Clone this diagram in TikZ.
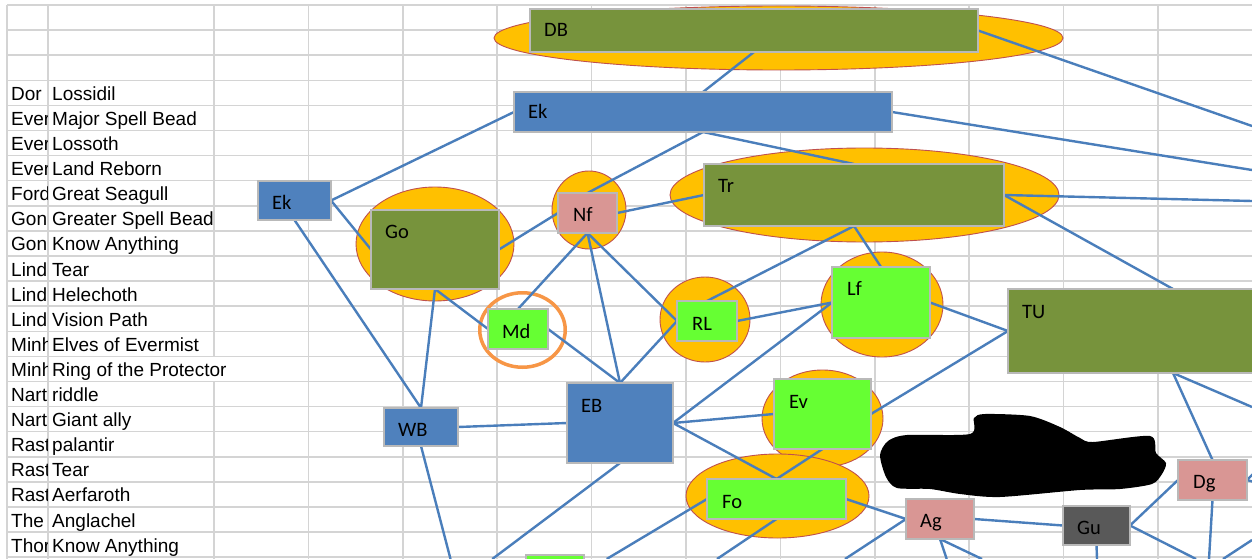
\documentclass[tikz,border=0pt]{standalone}
\usepackage{fontspec}
\setmainfont{Liberation Sans}
\newfontfamily\lblfont{Carlito}
\usetikzlibrary{shapes.geometric,calc}
\definecolor{gridc}{RGB}{212,212,212}
\definecolor{bluec}{RGB}{79,129,189}
\definecolor{olivec}{RGB}{119,147,60}
\definecolor{pinkc}{RGB}{217,150,148}
\definecolor{greenc}{RGB}{102,255,51}
\definecolor{dgrayc}{RGB}{89,89,89}
\definecolor{ovalf}{RGB}{255,192,0}
\definecolor{ovalb}{RGB}{192,80,77}
\definecolor{ringc}{RGB}{247,150,70}
\definecolor{boxb}{RGB}{185,185,185}
\definecolor{connc}{RGB}{74,126,187}
\pgfdeclarelayer{back}
\pgfdeclarelayer{mid}
\pgfsetlayers{back,mid,main}
\begin{document}
\begin{tikzpicture}[x=1pt,y=-1pt,
  gridln/.style={draw=gridc, line width=1.5pt},
  boxnode/.style={draw=boxb, line width=1.6pt, inner sep=0pt, outer sep=0pt},
  blu/.style={boxnode, fill=bluec},
  oli/.style={boxnode, fill=olivec},
  pnk/.style={boxnode, fill=pinkc},
  grn/.style={boxnode, fill=greenc},
  dgr/.style={boxnode, fill=dgrayc},
  oval/.style={ellipse, draw=ovalb, fill=ovalf, line width=0.9pt, inner sep=0pt, outer sep=0pt},
  ring/.style={ellipse, draw=ringc, line width=3.5pt, inner sep=0pt, outer sep=0pt},
  conn/.style={draw=connc, line width=2.4pt},
  lbl/.style={anchor=base west, inner sep=0pt, font=\lblfont\fontsize{20.5}{24}\selectfont},
  cell/.style={anchor=base west, inner sep=0pt, font=\fontsize{19}{23}\selectfont}]
\useasboundingbox (0,0) rectangle (1252,559);

\begin{pgfonlayer}{back}
\begin{scope}
\clip (0,0) rectangle (1252,559);
\fill[white] (0,0) rectangle (1252,559);
% grid rows
\foreach \k in {0,...,22} {
  \draw[gridln] (7,{5+25.1*\k}) -- (1262,{5+25.1*\k});
}
% grid columns
\foreach \c in {7,48,308.4,402.8,497.2,591.6,686,780.4,874.8,969.2,1063.6,1158,1252.4} {
  \draw[gridln] (\c,5) -- (\c,562);
}
\draw[gridln] (214,5) -- (214,356.4);
\draw[gridln] (214,381.5) -- (214,562);
% column B texts
\foreach \b [count=\i from 3] in {Lossidil,Major Spell Bead,Lossoth,Land Reborn,Great Seagull,Greater Spell Bead,Know Anything,Tear,Helechoth,Vision Path,Elves of Evermist,Ring of the Protector,riddle,Giant ally,palantir,Tear,Aerfaroth,Anglachel,Know Anything} {
  \node[cell] (b\i) at (52,{5+25.1*\i+20}) {\b};
}
% column A texts (clipped at the cell edge)
\begin{scope}
\clip (7,5) rectangle (47.3,559);
\foreach \a [count=\i from 3] in {Dor,Ever,Ever,Ever,Ford,Gon,Gon,Lind,Lind,Lind,Minh,Minh,Nart,Nart,Rast,Rast,Rast,The,Thor} {
  \node[cell] (a\i) at (11,{5+25.1*\i+20}) {\a};
}
\end{scope}
% ellipses
\node[oval, minimum width=569pt, minimum height=64pt] (DBe) at (778.5,38) {};
\node[oval, minimum width=158pt, minimum height=114pt] (Goe) at (435,244) {};
\node[oval, minimum width=74pt, minimum height=78pt] (Nfe) at (589,210) {};
\node[oval, minimum width=389pt, minimum height=94pt] (Tre) at (864.5,195) {};
\node[oval, minimum width=90pt, minimum height=85pt] (RLe) at (705,319.5) {};
\node[oval, minimum width=122pt, minimum height=105pt] (Lfe) at (882,304.5) {};
\node[oval, minimum width=121pt, minimum height=97pt] (Eve) at (822.5,418.5) {};
\node[oval, minimum width=183pt, minimum height=84pt] (Foe) at (777.5,496) {};
\node[ring, minimum width=85.5pt, minimum height=74.5pt] (Mde) at (522.5,330) {};
\end{scope}
\end{pgfonlayer}

% boxes
\node[oli, minimum width=448pt, minimum height=43pt] (DB) at (754,30.5) {};
\node[blu, minimum width=378pt, minimum height=40pt] (EkB) at (703,112) {};
\node[blu, minimum width=73pt, minimum height=39pt] (EkS) at (294.5,200.5) {};
\node[oli, minimum width=128pt, minimum height=79pt] (Go) at (435,249.5) {};
\node[pnk, minimum width=59pt, minimum height=40pt] (Nf) at (587.5,213) {};
\node[oli, minimum width=300pt, minimum height=62pt] (Tr) at (854,195) {};
\node[grn, minimum width=60pt, minimum height=40pt] (Md) at (518,329) {};
\node[grn, minimum width=60pt, minimum height=40pt] (RL) at (707,321) {};
\node[grn, minimum width=98pt, minimum height=71pt] (Lf) at (881,302.5) {};
\node[oli, minimum width=330pt, minimum height=84pt] (TU) at (1173,331) {};
\node[blu, minimum width=106pt, minimum height=80pt] (EB) at (620,423) {};
\node[blu, minimum width=74pt, minimum height=38pt] (WB) at (421,427) {};
\node[grn, minimum width=97pt, minimum height=70pt] (Ev) at (822.5,414) {};
\node[grn, minimum width=139pt, minimum height=40pt] (Fo) at (776.5,499) {};
\node[pnk, minimum width=68pt, minimum height=40pt] (Ag) at (940,519) {};
\node[dgr, minimum width=67pt, minimum height=39pt] (Gu) at (1096.5,525.5) {};
\node[pnk, minimum width=69pt, minimum height=40pt] (Dg) at (1212.5,480) {};
\node[grn, minimum width=58pt, minimum height=40pt] (St) at (555,575) {};

% labels
\node[lbl] (DBl) at ($(DB.north west)+(14,28)$) {DB};
\node[lbl] (EkBl) at ($(EkB.north west)+(14,27)$) {Ek};
\node[lbl] (EkSl) at ($(EkS.north west)+(14,28)$) {Ek};
\node[lbl] (Gol) at ($(Go.north west)+(14,28)$) {Go};
\node[lbl] (Nfl) at ($(Nf.north west)+(15,28)$) {Nf};
\node[lbl] (Trl) at ($(Tr.north west)+(14,28)$) {Tr};
\node[lbl] (Mdl) at ($(Md.north west)+(14,29)$) {Md};
\node[lbl] (RLl) at ($(RL.north west)+(15,29)$) {RL};
\node[lbl] (Lfl) at ($(Lf.north west)+(15,28)$) {Lf};
\node[lbl] (TUl) at ($(TU.north west)+(14,29)$) {TU};
\node[lbl] (EBl) at ($(EB.north west)+(14,29)$) {EB};
\node[lbl] (WBl) at ($(WB.north west)+(14,28)$) {WB};
\node[lbl] (Evl) at ($(Ev.north west)+(15,29)$) {Ev};
\node[lbl] (Fol) at ($(Fo.north west)+(15,29)$) {Fo};
\node[lbl] (Agl) at ($(Ag.north west)+(14,28)$) {Ag};
\node[lbl] (Gul) at ($(Gu.north west)+(14,28)$) {Gu};
\node[lbl] (Dgl) at ($(Dg.north west)+(15,28)$) {Dg};

% redaction blob
\fill[black] plot[smooth cycle, tension=0.45] coordinates {(880,455) (888,441) (907,435) (970,434) (974,418) (985,414) (1030,416) (1060,427) (1080,438) (1093,442) (1150,436) (1156,453) (1166,463) (1162,474) (1152,484) (1120,489) (1080,490) (1000,497) (960,494) (930,489) (897,488) (886,477)};

\begin{pgfonlayer}{mid}
\begin{scope}
\clip (0,0) rectangle (1252,559);
\coordinate (oDB) at (1252,126);
\coordinate (oEk) at (1252,170);
\coordinate (oTr) at (1252,201);
\coordinate (oTU) at (1252,407);
\coordinate (oDg1) at (1254,473);
\coordinate (oDg2) at (1254,482);
\coordinate (oWB) at (450.5,559);
\coordinate (oEB) at (492.3,559);
\coordinate (oFo1) at (606.7,559);
\coordinate (oFo2) at (717,559);
\coordinate (oAg1) at (845,559);
\coordinate (oAg2) at (946.7,559);
\coordinate (oAg3) at (982,559);
\coordinate (oGu1) at (1097,559);
\coordinate (oGu2) at (1196,559);
\coordinate (oDg3) at (1209,559);
\coordinate (oX1) at (1223,559);
\coordinate (oX2) at (1252,540);
\draw[conn] (DB.south) -- (EkB.north);
\draw[conn] (DB.east) -- (oDB);
\draw[conn] (EkB.east) -- (oEk);
\draw[conn] (EkB.west) -- (EkS.east);
\draw[conn] (EkB.south) -- (Nf.north);
\draw[conn] (EkB.south) -- (Tr.north);
\draw[conn] (Nf.east) -- (Tr.west);
\draw[conn] (Go.east) -- (Nf.west);
\draw[conn] (EkS.east) -- (Go.west);
\draw[conn] (EkS.south) -- (WB.north);
\draw[conn] (Tr.east) -- (oTr);
\draw[conn] (Tr.east) -- (TU.north);
\draw[conn] (Tr.south) -- (RL.north);
\draw[conn] (Tr.south) -- (Lf.north);
\draw[conn] (Nf.south) -- (Md.north);
\draw[conn] (Nf.south) -- (EB.north);
\draw[conn] (Nf.south) -- (RL.west);
\draw[conn] (Go.south) -- (Md.west);
\draw[conn] (Go.south) -- (WB.north);
\draw[conn] (Md.east) -- (EB.north);
\draw[conn] (RL.west) -- (EB.north);
\draw[conn] (RL.east) -- (Lf.west);
\draw[conn] (Lf.west) -- (EB.east);
\draw[conn] (Ev.west) -- (EB.east);
\draw[conn] (EB.east) -- (Fo.north);
\draw[conn] (Ev.south) -- (Fo.north);
\draw[conn] (WB.east) -- (EB.west);
\draw[conn] (WB.south) -- (oWB);
\draw[conn] (EB.south) -- (oEB);
\draw[conn] (Fo.west) -- (oFo1);
\draw[conn] (Fo.south) -- (oFo2);
\draw[conn] (Lf.east) -- (TU.west);
\draw[conn] (Ev.east) -- (TU.west);
\draw[conn] (TU.south) -- (Dg.north);
\draw[conn] (TU.south) -- (oTU);
\draw[conn] (Dg.east) -- (oDg1);
\draw[conn] (Dg.east) -- (oDg2);
\draw[conn] (Dg.west) -- (Gu.east);
\draw[conn] (Gu.east) -- (oGu2);
\draw[conn] (Dg.south) -- (oDg3);
\draw[conn] (oX1) -- (oX2);
\draw[conn] (Fo.east) -- (Ag.west);
\draw[conn] (Ag.west) -- (oAg1);
\draw[conn] (Ag.east) -- (Gu.west);
\draw[conn] (Ag.south) -- (oAg2);
\draw[conn] (Ag.south) -- (oAg3);
\draw[conn] (Gu.south) -- (oGu1);
\end{scope}
\end{pgfonlayer}
\end{tikzpicture}
\end{document}
